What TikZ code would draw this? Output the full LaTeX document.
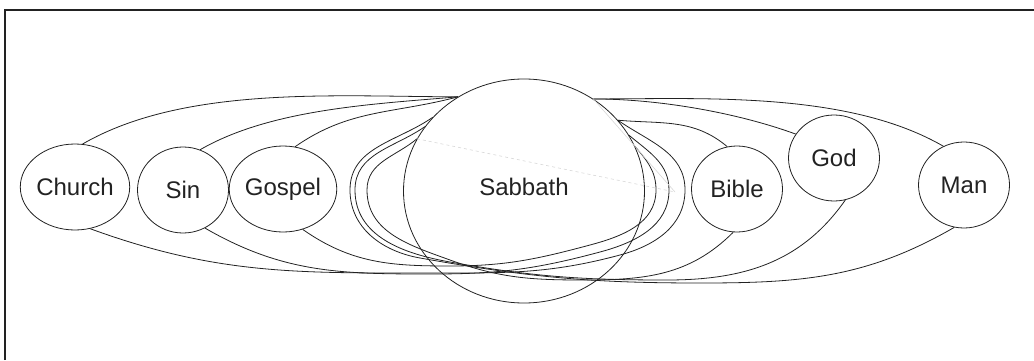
\documentclass[tikz,border=0pt]{standalone}
\usepackage{fontspec}
\setmainfont{Liberation Sans}
\usepackage{xcolor}
\definecolor{inkgray}{RGB}{34,34,34}
\definecolor{fadegray}{RGB}{215,215,215}
\usetikzlibrary{shapes.geometric}

\newcommand{\topicfont}{\fontsize{24}{28}\selectfont}

\tikzset{
  topic/.style={ellipse, draw=inkgray, line width=0.8pt, inner sep=0pt,
                minimum width=91pt, minimum height=86pt,
                text=inkgray, font=\topicfont},
  hull/.style={draw=inkgray, line width=0.8pt},
  faint/.style={draw=fadegray, line width=0.6pt}
}

\begin{document}
\begin{tikzpicture}[x=1pt, y=1pt]

  \useasboundingbox (0,0) rectangle (1034,360);

  % Frame (cut off right and bottom)
  \draw[inkgray, line width=2pt] (4.5,0) -- (4.5,350.5) -- (1034,350.5);

  % Topics
  \node[topic] (church) at (75,173) {Church};
  \node[topic] (sin) at (183,170) {Sin};
  \node[topic] (gospel) at (283,171) {Gospel};
  \node[topic] (bible) at (737,171) {Bible};
  \node[topic] (god) at (834,202) {God};
  \node[topic] (man) at (964,175) {Man};

  % Central topic
  \node[topic, minimum width=241pt, minimum height=224pt]
        (sab) at (524,169) {\raisebox{9pt}{Sabbath}};

  % Hulls of the left topics: upper edge, then far end and lower edge
  \draw[hull] (church.80) to[out=30, in=180, looseness=0.8] (sab.125);
  \draw[hull] (sab.37) to[out=-35, in=90] (685,170) to[out=-90, in=15] (620,105)
              to[out=195, in=0] (433,87) to[out=180, in=-20] (church.-70);

  \draw[hull] (sin.67) to[out=30, in=185, looseness=0.8] (sab.125);
  \draw[hull] (sab.28) to[out=-40, in=90] (669,170) to[out=-90, in=15] (600,108)
              to[out=195, in=0] (433,86) to[out=180, in=-30] (sin.-60);

  \draw[hull] (gospel.74) to[out=35, in=195] (sab.125);
  \draw[hull] (sab.22) to[out=-50, in=90] (656,170) to[out=-90, in=15] (590,115)
              to[out=195, in=0] (450,94) to[out=180, in=-35] (gospel.-64);

  % Hulls of the right topics
  \draw[hull] (bible.103) to[out=140, in=-5] (sab.37);
  \draw[hull] (sab.154) to[out=220, in=90] (367,170) to[out=-90, in=160] (450,100)
              to[out=-20, in=180] (583,80) to[out=0, in=-135] (bible.-95);

  \draw[hull] (god.148) to[out=160, in=0, looseness=0.8] (sab.53);
  \draw[hull] (sab.147) to[out=215, in=90] (355,170) to[out=-90, in=170] (450,98)
              to[out=-10, in=180] (667,80) to[out=0, in=-125] (god.-75);

  \draw[hull] (man.118) to[out=150, in=0, looseness=0.8] (sab.53);
  \draw[hull] (sab.141) to[out=215, in=90] (350,170) to[out=-90, in=170] (420,102)
              to[out=-10, in=180] (700,77) to[out=0, in=-150] (man.-103);

  % Faint leftover strokes
  \coordinate (fade) at (675,168);
  \draw[faint, dashed] (sab.154) -- (fade);
  \draw[faint] (sab.53) -- (fade);

\end{tikzpicture}
\end{document}
